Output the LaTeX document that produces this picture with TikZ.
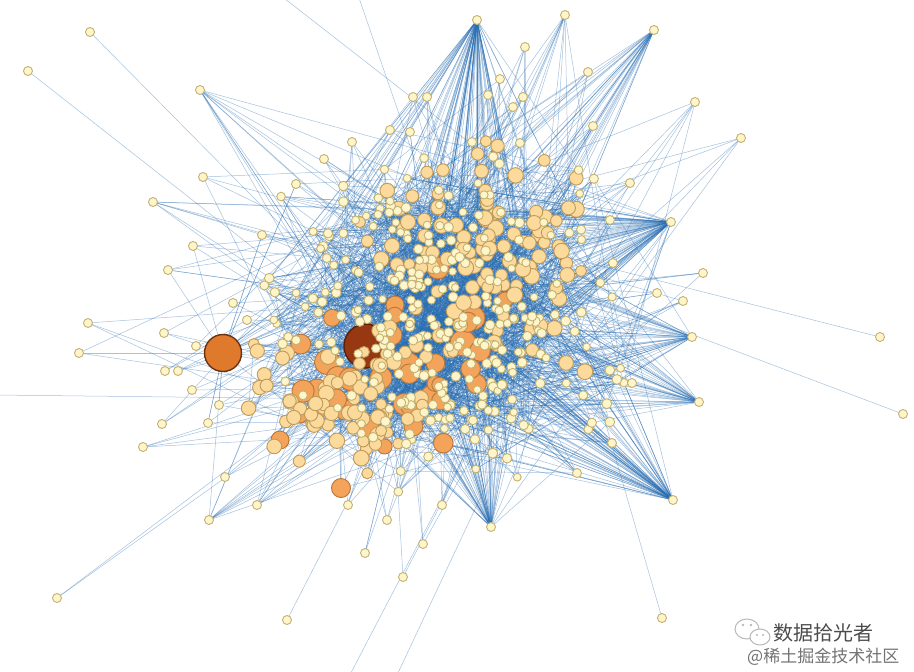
\documentclass[tikz,border=0pt]{standalone}
\usepackage{fontspec}
\newfontfamily\cjk{Noto Sans CJK SC}
\usepackage{xcolor}
\usetikzlibrary{positioning}
\definecolor{edgeblue}{HTML}{2A6FB3}
\definecolor{palefill}{HTML}{FFF5CA}
\definecolor{paleline}{HTML}{C4B272}
\definecolor{tanfill}{HTML}{FBDA9C}
\definecolor{tanline}{HTML}{BF9A58}
\definecolor{orfill}{HTML}{F4A35A}
\definecolor{orline}{HTML}{B8773A}
\definecolor{dkorfill}{HTML}{DF7A2C}
\definecolor{dkorline}{HTML}{6A3210}
\definecolor{redfill}{HTML}{983813}
\definecolor{redline}{HTML}{5A2008}
\pgfdeclarelayer{paper}
\pgfdeclarelayer{links}
\pgfsetlayers{paper,links,main}

\begin{document}
\begin{tikzpicture}[x=1pt,y=-1pt,
  link/.style={edgeblue,line width=0.5pt,draw opacity=0.42},
  dot/.style={circle,inner sep=0pt,line width=0.9pt,draw=paleline,fill=palefill,minimum size=#1pt},
  tandot/.style={dot=#1,draw=tanline,fill=tanfill},
  ordot/.style={dot=#1,draw=orline,fill=orfill},
  bigdot/.style={dot=#1,line width=1.4pt}]
\begin{pgfonlayer}{paper}
  \fill[white] (0,0) rectangle (914,672);
\end{pgfonlayer}
\useasboundingbox (0,0) rectangle (914,672);
\pgfmathsetseed{4242}

\def\outer{90/32/1, 28/71/1, 200/90/12, 203/177/4, 296/184/3, 153/202/7, 262/235/3,
  193/246/3, 168/270/4, 233/303/2, 247/320/2, 88/323/3, 164/333/2, 79/353/2, 196/346/2,
  165/371/2, 178/371/3, 192/390/2, 219/405/3, 162/424/3, 208/423/2, 143/447/4, 225/477/2,
  209/520/10, 257/505/8, 57/598/2, 287/620/1, 348/505/4, 387/520/4, 365/553/3, 403/577/2,
  423/544/3, 442/505/5, 491/527/60, 577/473/8, 612/443/8, 673/500/70, 662/618/1, 699/402/40,
  632/383/4, 692/337/40, 880/337/1, 903/414/1, 703/273/4, 683/301/5, 657/293/4, 613/263/3,
  671/222/80, 610/220/5, 630/183/6, 741/138/5, 695/102/6, 654/30/30, 593/126/5, 588/72/5,
  565/15/12, 525/47/6, 513/107/4, 523/97/4, 500/79/4, 488/95/4, 477/20/90, 427/97/4,
  413/97/4, 352/142/5, 324/159/4, 390/130/4, 410/132/3, 472/142/4, 520/143/4}
\def\orange{407/366/28, 327/362/25, 463/343/26, 367/427/24, 473/318/24, 438/268/22,
  317/390/22, 280/440/18, 392/335/20, 345/410/20, 430/395/18, 300/415/16, 395/305/18,
  505/300/16, 355/385/18, 341/488/19}

% large nodes
\node[bigdot=44,draw=redline,fill=redfill] (core) at (366,346) {};
\node[bigdot=37,draw=dkorline,fill=dkorfill] (lone) at (223,353) {};
\foreach \x/\y/\s [count=\i] in \orange
  \node[ordot=\s] (o\i) at (\x,\y) {};
\foreach \i in {1,...,24}{
  \pgfmathsetmacro\cx{385+60*(rand+rand)}
  \pgfmathsetmacro\cy{385+40*(rand+rand)}
  \pgfmathsetmacro\cs{15+8*rnd}
  \node[ordot=\cs] (c\i) at (\cx,\cy) {};
}
% medium and small nodes
\foreach \i in {1,...,180}{
  \pgfmathsetmacro\cx{ifthenelse(\i<115,485+65*(rand+rand),335+60*(rand+rand))}
  \pgfmathsetmacro\cy{ifthenelse(\i<115,262+65*(rand+rand),405+38*(rand+rand))}
  \pgfmathsetmacro\cs{11+5*rnd}
  \node[tandot=\cs] (b\i) at (\cx,\cy) {};
}
\foreach \i in {1,...,320}{
  \pgfmathsetmacro\cx{440+95*(rand+rand)}
  \pgfmathsetmacro\cy{325+88*(rand+rand)}
  \pgfmathsetmacro\cs{7.5+2.5*rnd}
  \node[dot=\cs] (a\i) at (\cx,\cy) {};
}
\foreach \x/\y/\d [count=\i] in \outer
  \node[dot=9] (p\i) at (\x,\y) {};
\coordinate (far1) at (-5,395);
\coordinate (far2) at (280,-5);
\coordinate (far3) at (358,-5);
\coordinate (far4) at (342,690);
\coordinate (far5) at (390,690);

\begin{pgfonlayer}{links}
\foreach \i in {1,...,320}{
  \foreach \k in {1,2}{
    \pgfmathtruncatemacro\j{random(1,320)}
    \draw[link] (a\i.center) -- (a\j.center);
  }
  \pgfmathtruncatemacro\j{random(1,180)}
  \draw[link] (a\i.center) -- (b\j.center);
}
\foreach \i in {1,...,180}{
  \foreach \k in {1,2}{
    \pgfmathtruncatemacro\j{random(1,180)}
    \draw[link] (b\i.center) -- (b\j.center);
  }
  \pgfmathtruncatemacro\j{random(1,320)}
  \draw[link] (b\i.center) -- (a\j.center);
}
\foreach \i in {1,...,24}{
  \foreach \k in {1,...,4}{
    \pgfmathtruncatemacro\j{random(1,320)}
    \draw[link] (c\i.center) -- (a\j.center);
  }
}
\foreach \i in {1,...,16}{
  \foreach \k in {1,...,5}{
    \pgfmathtruncatemacro\j{random(1,320)}
    \draw[link] (o\i.center) -- (a\j.center);
  }
}
\foreach \k in {1,...,12}{
  \pgfmathtruncatemacro\j{random(1,320)}
  \draw[link] (core.center) -- (a\j.center);
  \pgfmathtruncatemacro\j{random(1,320)}
  \draw[link] (lone.center) -- (a\j.center);
  \pgfmathtruncatemacro\j{random(1,24)}
  \draw[link] (lone.center) -- (p\j.center);
}
\foreach \x/\y/\d [count=\i] in \outer{
  \foreach \k in {1,...,\d}{
    \pgfmathtruncatemacro\j{random(1,320)}
    \draw[link] (p\i.center) -- (a\j.center);
  }
}
\foreach \f in {1,...,5}{
  \pgfmathtruncatemacro\j{random(1,320)}
  \draw[link] (far\f) -- (a\j.center);
}
\end{pgfonlayer}

% watermark
\draw[gray!55,line width=1pt,fill=white] (747,629) ellipse [x radius=12,y radius=10];
\draw[gray!55,line width=1pt,fill=white] (760,637) ellipse [x radius=10,y radius=8];
\fill[gray!55] (743,625) circle (1.3) (751,625) circle (1.3) (757,635) circle (1.1) (763,635) circle (1.1);
\node[font=\cjk\fontsize{20}{20}\selectfont,text=black!70,anchor=west,inner sep=0pt] (brand) at (773,633) {数据拾光者};
\node[font=\cjk\fontsize{17}{17}\selectfont,text=black!55,anchor=west,inner sep=0pt] (site) at (747,657) {@稀土掘金技术社区};
\end{tikzpicture}
\end{document}
